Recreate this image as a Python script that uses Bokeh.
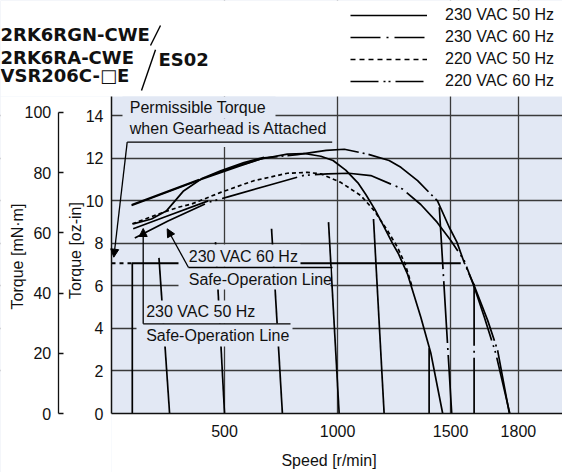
import math
from bokeh.plotting import figure
from bokeh.models import (Range1d, LinearAxis, FixedTicker, Label, Arrow, NormalHead,
                          Legend, LegendItem, BoxAnnotation)
from bokeh.embed import file_html
from bokeh.resources import INLINE

# ---------------- data (speed r/min, torque oz-in) ----------------
speed_230_50 = [89, 266, 380, 571, 660, 778, 852, 926, 980, 1036, 1090, 1125, 1165, 1200, 1243, 1270, 1309, 1368, 1413, 1465]
torque_230_50 = [9.78, 10.49, 10.95, 11.66, 11.97, 12.2, 12.23, 12.1, 11.9, 11.45, 10.85, 10.3, 9.6, 8.9, 8.0, 7.5, 6.57, 4.54, 2.82, 0]

speed_230_60 = [89, 266, 400, 530, 675, 822, 950, 1030, 1132, 1228, 1280, 1354, 1442, 1494, 1528, 1560, 1605, 1664, 1708, 1760]
torque_230_60 = [9.82, 10.52, 11.05, 11.55, 12.02, 12.18, 12.38, 12.43, 12.2, 11.9, 11.58, 10.95, 10.0, 8.76, 8.06, 7.1, 6.0, 4.38, 2.97, 0]

speed_220_50 = [92, 200, 295, 354, 483, 630, 778, 866, 926, 1014, 1103, 1162, 1221, 1265, 1300, 1330]
torque_220_50 = [8.92, 9.35, 9.7, 9.85, 10.4, 10.95, 11.3, 11.34, 11.27, 10.87, 10.25, 9.54, 8.6, 7.82, 7.0, 5.95]

speed_220_60 = [103, 250, 428, 519, 700, 851, 955, 1050, 1147, 1287, 1368, 1440, 1501, 1560, 1605, 1649, 1700, 1762]
torque_220_60 = [8.26, 9.05, 9.93, 10.2, 10.75, 11.2, 11.27, 11.3, 11.19, 10.56, 9.83, 9.0, 8.14, 7.2, 5.94, 4.54, 2.82, 0]

safe_a_speed = [96, 177, 244, 317, 400, 483, 586, 675]
safe_a_torque = [8.92, 9.15, 9.54, 10.45, 11.05, 11.42, 11.8, 12.05]

safe_b_speed = [96, 250, 428]
safe_b_torque = [8.69, 9.3, 10.0]

# speed-control lines: top point and zero-torque speed
ctrl_top_speed = [92, 210, 460, 708, 960, 1159, 1405, 1450, 1604]
ctrl_top_torque = [7.07, 7.32, 8.06, 8.69, 9.0, 9.15, 3.07, 9.7, 6.1]
ctrl_zero_speed = [92, 257, 500, 756, 1007, 1206, 1405, 1505, 1604]

perm_torque = 7.07          # 50 mN·m
perm_dash_speed = [0, 90]
perm_solid_speed = [90, 1545]

x_ticks = [500, 1000, 1500, 1800]
oz_ticks = [0, 2, 4, 6, 8, 10, 12, 14]
mnm_ticks = [0, 20, 40, 60, 80, 100]
legend_labels = ["230 VAC 50 Hz", "230 VAC 60 Hz", "220 VAC 50 Hz", "220 VAC 60 Hz"]
model_lines = ["2RK6RGN-CWE", "2RK6RA-CWE", "VSR206C-\u25a1E"]
driver_name = "ES02"

# ---------------- styling / geometry ----------------
BG = "#e2e8f4"
FONT = "Liberation Sans"
FS = "16px"
INK = "#111111"
GRID = "#3a3a3a"
OZ_TO_MNM = 7.0616
SX = 451 / 1995        # px per r/min
SY = 317 / 14.91       # px per oz-in
W, H = 562, 472
NAN = float("nan")

# window pixel -> data helpers (for annotations only)
def X(px):
    return (px - 111) / SX

def Y(py):
    return (413 - py) / SY

p = figure(width=W, height=H, output_backend="svg", toolbar_location=None,
           x_range=Range1d(X(0), X(W)), y_range=Range1d(Y(H), Y(0)),
           min_border=0, min_border_left=0, min_border_right=0,
           min_border_top=0, min_border_bottom=0,
           background_fill_color=BG, border_fill_color="white", outline_line_color=None)
p.extra_y_ranges = {"mnm": Range1d(Y(H) * OZ_TO_MNM, Y(0) * OZ_TO_MNM)}

def style_axis(ax):
    ax.major_tick_out = 0
    ax.major_tick_in = 0
    ax.minor_tick_out = 0
    ax.minor_tick_in = 0
    ax.axis_line_color = INK
    ax.axis_line_width = 1.5
    ax.major_label_text_font = FONT
    ax.major_label_text_font_size = FS
    ax.major_label_text_color = INK

xa = p.xaxis[0]
style_axis(xa)
xa.ticker = FixedTicker(ticks=x_ticks)
xa.fixed_location = 0
xa.bounds = (0, X(W))
xa.major_label_standoff = 11

ya = p.yaxis[0]
style_axis(ya)
ya.ticker = FixedTicker(ticks=oz_ticks)
ya.fixed_location = 0
ya.bounds = (0, Y(96))
ya.major_label_standoff = 8

mnm = LinearAxis(y_range_name="mnm", ticker=FixedTicker(ticks=mnm_ticks), bounds=(0, 100),
                 fixed_location=X(57.7))
style_axis(mnm)
mnm.major_tick_in = 5
mnm.major_tick_line_color = INK
mnm.major_tick_line_width = 1.3
mnm.axis_line_width = 1.3
mnm.major_label_standoff = 7
p.add_layout(mnm, "left")

p.xgrid.ticker = FixedTicker(ticks=x_ticks)
p.ygrid.ticker = FixedTicker(ticks=oz_ticks[1:])
for g in (p.xgrid[0], p.ygrid[0]):
    g.grid_line_color = GRID
    g.grid_line_width = 1.3

# white margins around the chart area (below curves, above grid)
for (l, r, b, t) in [(X(0), X(W), Y(96), Y(0)), (X(0), 0, Y(H), Y(96)), (0, X(W), Y(H), 0)]:
    p.add_layout(BoxAnnotation(left=l, right=r, bottom=b, top=t, fill_color="white",
                               fill_alpha=1, line_color=None, level="underlay"))

LW = 1.7
kw = dict(line_color="black", line_width=LW, line_cap="butt", line_join="round")
DASHDOT = "72 4 2 4"
DASHDOTDOT = "78 5 2 4 2 5"
DASHED = "4 3"

p.line(speed_230_50, torque_230_50, **kw)
p.line(speed_230_60, torque_230_60, line_dash=DASHDOT, **kw)
p.line(speed_220_50, torque_220_50, line_dash=DASHED, **kw)
p.line(speed_220_60, torque_220_60, line_dash=DASHDOTDOT, **kw)
p.line(safe_a_speed, safe_a_torque, **kw)
p.line(safe_b_speed, safe_b_torque, **kw)

for i in range(len(ctrl_top_speed)):
    dash = "solid" if i < 7 else "62 5 2 5"
    p.line([ctrl_top_speed[i], ctrl_zero_speed[i]], [ctrl_top_torque[i], 0],
           line_dash=dash, **kw)

p.line(perm_dash_speed, [perm_torque] * 2, line_color="black", line_width=2, line_dash="4 4")
p.line(perm_solid_speed, [perm_torque] * 2, line_color="black", line_width=2)

# key (style samples only; NaN data draws nothing in the plot area)
key_dashes = ["solid", "30 6 2 6", "5 4", "28 5 2 3 2 5"]
proxies = [p.line([NAN, NAN], [NAN, NAN], line_dash=d, **kw) for d in key_dashes]
legend = Legend(items=[LegendItem(label=l, renderers=[r]) for l, r in zip(legend_labels, proxies)],
                location=(350, H - 91), glyph_width=77, glyph_height=20, label_height=20,
                label_standoff=18, spacing=2, padding=0, margin=0,
                background_fill_alpha=0, border_line_color=None,
                label_text_font=FONT, label_text_font_size=FS, label_text_color=INK)
p.add_layout(legend)

# label background boxes
for (l, r, t, b) in [(122, 275, 96, 118), (122, 333, 118, 146.5),
                     (178, 300, 244, 266), (178, 330, 266, 289),
                     (136, 262, 300, 323), (136, 292, 323, 346)]:
    p.add_layout(BoxAnnotation(left=X(l), right=X(r), top=Y(t), bottom=Y(b),
                               fill_color=BG, fill_alpha=1, line_color=None))

def seg(x0, y0, x1, y1, head_on=False, lw=1.3):
    a = Arrow(x_start=X(x0), y_start=Y(y0), x_end=X(x1), y_end=Y(y1),
              line_color="black", line_width=lw,
              end=NormalHead(size=8, fill_color="black", line_color="black", line_width=1) if head_on else None)
    p.add_layout(a)

seg(126.7, 141.7, 331.7, 141.7)
seg(126.7, 141.7, 113.3, 256.7, head_on=True)
seg(188, 267, 332, 267)
seg(188, 267, 166.7, 228.3, head_on=True)
seg(142.7, 323.3, 290, 323.3)
seg(142.7, 323.3, 142.7, 228, head_on=True)
seg(160, 25, 150, 45, lw=1.4)
seg(155, 49.3, 141, 90, lw=1.4)

def txt(s, x, y, font=FONT, size=FS, bold=False, align="left", angle=0.0):
    p.add_layout(Label(x=X(x), y=Y(y), text=s, text_font=font, text_font_size=size,
                       text_font_style="bold" if bold else "normal", text_color=INK,
                       text_align=align, text_baseline="middle", angle=angle))

txt("Permissible Torque", 129.3, 106.7)
txt("when Gearhead is Attached", 129.3, 127.6)
txt("230 VAC 60 Hz", 188.3, 255.5)
txt("Safe-Operation Line", 188.3, 278.5)
txt("230 VAC 50 Hz", 145.7, 311)
txt("Safe-Operation Line", 145.7, 334.5)

for s, yc in zip(model_lines, [34, 56.5, 75]):
    txt(s, 0, yc, font="DejaVu Sans", size="18px", bold=True)
txt(driver_name, 158, 58.5, font="DejaVu Sans", size="18px", bold=True)

txt("Speed [r/min]", 328.5, 459.5, align="center")
txt("Torque [oz-in]", 74.5, 250, align="center", angle=math.pi / 2)
txt("Torque [mN\u00b7m]", 16.7, 256, align="center", angle=math.pi / 2)

open("out.html", "w").write(file_html(p, INLINE))
